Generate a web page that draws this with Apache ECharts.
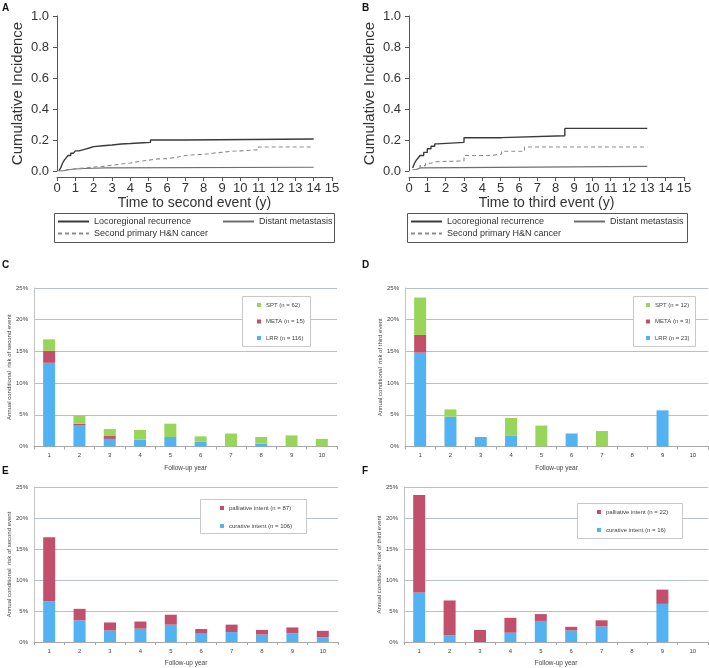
<!DOCTYPE html>
<html><head><meta charset="utf-8">
<script src="https://cdn.jsdelivr.net/npm/echarts@6/dist/echarts.min.js"></script>
<style>html,body{margin:0;padding:0;background:#fff}#c{width:709px;height:668px}</style>
</head><body><div id="c"></div><script>
// ---- Panel A: time to second event (cumulative incidence) ----
const lrrA = [[0.1,0],[0.2,0.02],[0.3,0.05],[0.4,0.07],[0.5,0.085],[0.6,0.1],[0.75,0.115],[0.9,0.125],[1.0,0.13],[1.2,0.14],[1.5,0.15],[1.8,0.157],[2.0,0.163],[2.5,0.168],[3.0,0.174],[3.5,0.177],[4.0,0.182],[4.7,0.185],[5.1,0.2],[7.0,0.206],[14.0,0.206]];
const dmA  = [[0.1,0],[0.3,0.008],[0.6,0.013],[1.0,0.016],[1.5,0.018],[2.0,0.02],[2.6,0.024],[14.0,0.024]];
const sptA = [[0.1,0],[0.3,0.008],[0.6,0.015],[1.0,0.02],[1.5,0.025],[2.0,0.03],[2.5,0.037],[3.0,0.045],[3.5,0.052],[4.0,0.062],[4.5,0.07],[5.0,0.078],[5.5,0.08],[6.0,0.088],[6.5,0.1],[7.0,0.105],[7.5,0.107],[8.0,0.115],[8.5,0.127],[9.5,0.13],[10.0,0.137],[11.0,0.155],[14.0,0.155]];
// ---- Panel B: time to third event ----
const lrrB = [[0.2,0.02],[0.3,0.05],[0.4,0.07],[0.5,0.084],[0.6,0.1],[0.8,0.12],[1.0,0.144],[1.2,0.16],[1.4,0.175],[1.55,0.185],[3.0,0.215],[5.05,0.227],[8.5,0.275],[13.0,0.275]];
const dmB  = [[0.2,0.01],[0.4,0.02],[0.6,0.03],[13.0,0.03]];
const sptB = [[0.2,0.01],[0.4,0.02],[0.6,0.035],[0.9,0.05],[1.2,0.06],[1.5,0.065],[3.0,0.1],[4.5,0.11],[5.05,0.127],[6.3,0.155],[13.0,0.155]];

// ---- Bar panels ----
const years = ['1','2','3','4','5','6','7','8','9','10'];
// C: second event by type (%)
const cLRR  = [13.2, 3.3, 1.2, 1.1, 1.5, 0.8, 0,    0.45, 0,    0];
const cMETA = [1.9,  0.3, 0.45,0,   0,   0,   0,    0,    0,    0];
const cSPT  = [1.8,  1.3, 1.1, 1.5, 2.1, 0.8, 2.05, 1.05, 1.75, 1.2];
// D: third event by type (%)
const dLRR  = [14.8, 4.7, 1.5, 1.75,0,   2.05,0,    0, 5.7, 0];
const dMETA = [2.8,  0,   0,   0,   0,   0,   0,    0, 0,   0];
const dSPT  = [5.9,  1.15,0,   2.75,3.3, 0,   2.45, 0, 0,   0];
// E: second event by treatment intent (%)
const eCur  = [6.6, 3.5, 1.85, 2.15, 2.8, 1.35, 1.6, 1.2, 1.4, 0.75];
const ePal  = [10.3,1.85,1.3,  1.15, 1.6, 0.75, 1.2, 0.75,0.95,1.05];
// F: third event by treatment intent (%)
const fCur  = [8.0, 1.1, 0,    1.5, 3.4, 1.85, 2.5, 0, 6.15, 0];
const fPal  = [15.7,5.6, 1.95, 2.4, 1.1, 0.6,  1.0, 0, 2.3,  0];

const nmC = {lrr:'LRR (n = 116)', meta:'META (n = 15)', spt:'SPT (n = 62)'};
const nmD = {lrr:'LRR (n = 23)', meta:'META (n = 3)', spt:'SPT (n = 12)'};
const nmE = {cur:'curative intent (n = 106)', pal:'palliative intent (n = 87)'};
const nmF = {cur:'curative intent (n = 16)', pal:'palliative intent (n = 22)'};

const BLUE='#52b2f2', RED='#c2506c', GREEN='#98d55a';
const C_LRR='#3a3a3a', C_DM='#6e6e6e', C_SPT='#8c8c8c';
const FONT='"Liberation Sans", Arial, sans-serif';

const chart = echarts.init(document.getElementById('c'), null, {renderer:'canvas'});

const grids = [
  {left:57, top:16, width:275, height:155},
  {left:409, top:16, width:275, height:155},
  {left:34, top:288, width:303, height:158.5},
  {left:405, top:288, width:303, height:158.5},
  {left:34, top:487, width:304, height:159},
  {left:404, top:487, width:304, height:159}
];

function kmX(i, name){
  return {gridIndex:i, type:'value', min:0, max:15, interval:1, offset:6,
    axisLine:{show:true, onZero:false, lineStyle:{color:'#555', width:1}},
    axisTick:{show:true, length:4, lineStyle:{color:'#555'}},
    axisLabel:{fontSize:13, color:'#333', fontFamily:FONT, margin:5},
    splitLine:{show:false},
    name:name, nameLocation:'middle', nameGap:17,
    nameTextStyle:{fontSize:14, color:'#333', fontFamily:FONT}};
}
function kmY(i){
  return {gridIndex:i, type:'value', min:0, max:1, interval:0.2, offset:6,
    axisLine:{show:true, lineStyle:{color:'#555', width:1}},
    axisTick:{show:true, length:4, lineStyle:{color:'#555'}},
    axisLabel:{fontSize:13, color:'#333', fontFamily:FONT, margin:2, formatter:v=>v.toFixed(1)},
    splitLine:{show:false},
    name:'Cumulative Incidence', nameLocation:'middle', nameGap:26,
    nameTextStyle:{fontSize:15, color:'#333', fontFamily:FONT}};
}
function barX(i){
  return {gridIndex:i, type:'category', data:years, boundaryGap:true,
    axisLine:{show:true, lineStyle:{color:'#a8a8a8'}},
    axisTick:{show:true, length:3, lineStyle:{color:'#a8a8a8'}},
    axisLabel:{fontSize:6, color:'#444', fontFamily:FONT, margin:6},
    name:'Follow-up year', nameLocation:'middle', nameGap:18,
    nameTextStyle:{fontSize:6.5, color:'#444', fontFamily:FONT}};
}
function barY(i, name, gap){
  return {gridIndex:i, type:'value', min:0, max:25, interval:5,
    axisLine:{show:true, lineStyle:{color:'#c4c4c4'}},
    axisTick:{show:false},
    axisLabel:{fontSize:6, color:'#444', fontFamily:FONT, margin:6, formatter:'{value}%'},
    splitLine:{show:true, lineStyle:{color:'#b4c0cc', width:1}},
    name:name, nameLocation:'middle', nameGap:gap,
    nameTextStyle:{fontSize:6, color:'#444', fontFamily:FONT}};
}
function line(name, data, idx, color, width, dashed){
  return {type:'line', name, data, xAxisIndex:idx, yAxisIndex:idx, step:'end', symbol:'none', showSymbol:false,
    lineStyle:{color, width, type: dashed ? [4,3] : 'solid'}, itemStyle:{color}, animation:false};
}
function bar(name, data, idx, color, stack){
  return {type:'bar', name, data, xAxisIndex:idx, yAxisIndex:idx, stack, barWidth:12,
    itemStyle:{color}, animation:false};
}
function kmLegend(name, left, top){
  return {data:[name], left, top, orient:'horizontal', itemWidth:31, itemHeight:8, padding:0,
    itemStyle:{opacity:0}, z:6,
    textStyle:{fontSize:9, color:'#333', fontFamily:FONT}, selectedMode:false};
}
function barLegend(names, left, top, gap){
  return {data:names, left, top, orient:'vertical', itemWidth:4, itemHeight:4, itemGap:gap, padding:0, z:6,
    icon:'rect', textStyle:{fontSize:6, color:'#444', fontFamily:FONT}, selectedMode:false};
}

const LRRN='Locoregional recurrence', DMN='Distant metastasis', SPTN='Second primary H&N cancer';

const option = {
  backgroundColor:'#fff',
  animation:false,
  grid: grids,
  xAxis:[kmX(0,'Time to second event (y)'), kmX(1,'Time to third event (y)'), barX(2), barX(3), barX(4), barX(5)],
  yAxis:[kmY(0), kmY(1),
    barY(2,'Annual conditional  risk of second event',19),
    barY(3,'Annual conditional  risk of third event',20),
    barY(4,'Annual conditional  risk of second event',19),
    barY(5,'Annual conditional  risk of third event',20)],
  legend:[
    kmLegend(LRRN, 57, 217), kmLegend(DMN, 222, 217), kmLegend(SPTN, 57, 229),
    kmLegend(LRRN, 410, 217), kmLegend(DMN, 573, 217), kmLegend(SPTN, 410, 229),
    barLegend([nmC.spt, nmC.meta, nmC.lrr], 257, 302, 10.5),
    barLegend([nmD.spt, nmD.meta, nmD.lrr], 646, 302, 10.5),
    barLegend([nmE.pal, nmE.cur], 220, 505, 12),
    barLegend([nmF.pal, nmF.cur], 597, 509, 12)
  ],
  graphic:[
    {type:'rect', shape:{x:54.5, y:213.5, width:280, height:29}, style:{fill:'none', stroke:'#555', lineWidth:1}, z:1},
    {type:'rect', shape:{x:407.5, y:213.5, width:280, height:29}, style:{fill:'none', stroke:'#555', lineWidth:1}, z:1},
    {type:'rect', shape:{x:242.5, y:296.5, width:68, height:50}, style:{fill:'#fff', stroke:'#c8c8c8', lineWidth:1}, z:3},
    {type:'rect', shape:{x:633.5, y:296.5, width:62, height:50}, style:{fill:'#fff', stroke:'#c8c8c8', lineWidth:1}, z:3},
    {type:'rect', shape:{x:200.5, y:499.5, width:106, height:34}, style:{fill:'#fff', stroke:'#c8c8c8', lineWidth:1}, z:3},
    {type:'rect', shape:{x:577.5, y:503.5, width:105, height:35}, style:{fill:'#fff', stroke:'#c8c8c8', lineWidth:1}, z:3},
    {type:'text', left:2, top:3, style:{text:'A', font:'bold 10px '+FONT, fill:'#111'}},
    {type:'text', left:362, top:3, style:{text:'B', font:'bold 10px '+FONT, fill:'#111'}},
    {type:'text', left:2, top:260, style:{text:'C', font:'bold 10px '+FONT, fill:'#111'}},
    {type:'text', left:362, top:260, style:{text:'D', font:'bold 10px '+FONT, fill:'#111'}},
    {type:'text', left:2, top:466, style:{text:'E', font:'bold 10px '+FONT, fill:'#111'}},
    {type:'text', left:362, top:466, style:{text:'F', font:'bold 10px '+FONT, fill:'#111'}}
  ],
  series:[
    line(LRRN, lrrA, 0, C_LRR, 1.4, false),
    line(DMN, dmA, 0, C_DM, 1.1, false),
    line(SPTN, sptA, 0, C_SPT, 1.1, true),
    line(LRRN, lrrB, 1, C_LRR, 1.4, false),
    line(DMN, dmB, 1, C_DM, 1.1, false),
    line(SPTN, sptB, 1, C_SPT, 1.1, true),
    bar(nmC.lrr, cLRR, 2, BLUE, 'c'),
    bar(nmC.meta, cMETA, 2, RED, 'c'),
    bar(nmC.spt, cSPT, 2, GREEN, 'c'),
    bar(nmD.lrr, dLRR, 3, BLUE, 'd'),
    bar(nmD.meta, dMETA, 3, RED, 'd'),
    bar(nmD.spt, dSPT, 3, GREEN, 'd'),
    bar(nmE.cur, eCur, 4, BLUE, 'e'),
    bar(nmE.pal, ePal, 4, RED, 'e'),
    bar(nmF.cur, fCur, 5, BLUE, 'f'),
    bar(nmF.pal, fPal, 5, RED, 'f')
  ]
};
chart.setOption(option);
</script></body></html>
